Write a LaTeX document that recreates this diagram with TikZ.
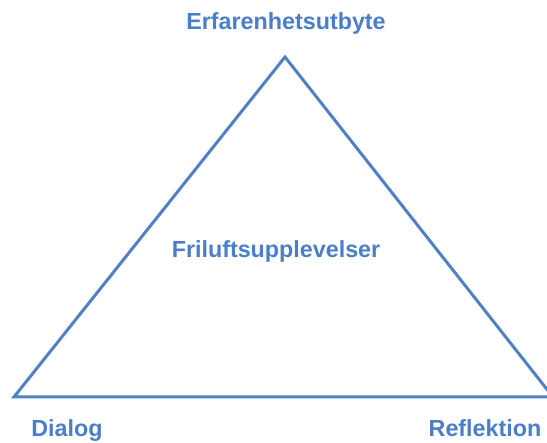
\documentclass[tikz,border=0pt]{standalone}
\usepackage{fontspec}
\setmainfont{Liberation Sans}
\definecolor{txtblue}{RGB}{74,126,200}
\definecolor{lineblue}{RGB}{79,129,195}
\begin{document}
\begin{tikzpicture}[x=1pt,y=-1pt,
  lbl/.style={anchor=base,inner sep=0pt,text=txtblue,font=\fontsize{23.3}{28}\selectfont\bfseries},
  edge/.style={draw=lineblue,line width=3pt,line join=miter}]
\useasboundingbox (0,0) rectangle (547,443);
\clip (0,0) rectangle (547,443);
\coordinate (apex) at (285,57);
\coordinate (bl) at (14,397);
\coordinate (br) at (553,397);
\draw[edge] (apex) -- (br) -- (bl) -- cycle;
\node[lbl] (top) at (286,30) {Erfarenhetsutbyte};
\node[lbl] (mid) at (276,258) {Friluftsupplevelser};
\node[lbl] (dl) at (67,437) {Dialog};
\node[lbl] (rf) at (485,437) {Reflektion};
\end{tikzpicture}
\end{document}
